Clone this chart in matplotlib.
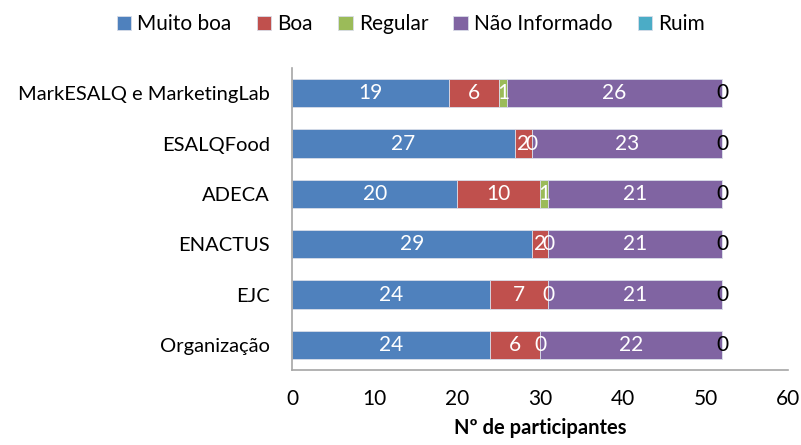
import numpy as np
import matplotlib.pyplot as plt

plt.rcParams['font.family'] = ['Lato', 'DejaVu Sans']

categorias = ['MarkESALQ e MarketingLab', 'ESALQFood', 'ADECA', 'ENACTUS', 'EJC', 'Organização']
series = ['Muito boa', 'Boa', 'Regular', 'Não Informado', 'Ruim']
muito_boa = [19, 27, 20, 29, 24, 24]
boa = [6, 2, 10, 2, 7, 6]
regular = [1, 0, 1, 0, 0, 0]
nao_informado = [26, 23, 21, 21, 21, 22]
ruim = [0, 0, 0, 0, 0, 0]
cores = ['#4F81BD', '#C0504D', '#9BBB59', '#8064A2', '#4BACC6']

dados = np.array([muito_boa, boa, regular, nao_informado, ruim], dtype=float)
y = np.arange(len(categorias))[::-1]

fig = plt.figure(figsize=(8.01, 4.45), dpi=100)
ax = fig.add_axes([0.3645, 0.1685, 0.6195, 0.6785])

esq = np.zeros(len(categorias))
for i, nome in enumerate(series):
    ax.barh(y, dados[i], left=esq, height=0.56, color=cores[i], label=nome,
            edgecolor='#d9dde8', linewidth=0.6)
    cor_txt = 'black' if nome == 'Ruim' else 'white'
    for yy, l, v in zip(y, esq, dados[i]):
        ax.text(l + v / 2, yy, '%d' % v, ha='center', va='center',
                color=cor_txt, fontsize=15)
    esq += dados[i]

ax.set_xlim(0, 60)
ax.set_ylim(-0.5, len(categorias) - 0.5)
ax.set_yticks(y)
ax.set_yticklabels(categorias, fontsize=14.5)
ax.set_xticks(range(0, 61, 10))
ax.tick_params(axis='x', labelsize=15, length=0, pad=14)
ax.tick_params(axis='y', length=0, pad=16)
for s in ['top', 'right']:
    ax.spines[s].set_visible(False)
for s in ['left', 'bottom']:
    ax.spines[s].set_color('#a6a6a6')
    ax.spines[s].set_linewidth(1.2)
ax.set_xlabel('Nº de participantes', fontsize=14.5, fontweight='bold', labelpad=6)

fig.legend(loc='upper center', bbox_to_anchor=(0.513, 1.01), ncol=5, frameon=False,
           fontsize=15, handlelength=0.7, handleheight=0.7, handletextpad=0.3,
           columnspacing=1.2)

fig.savefig('out.png', dpi=100)
